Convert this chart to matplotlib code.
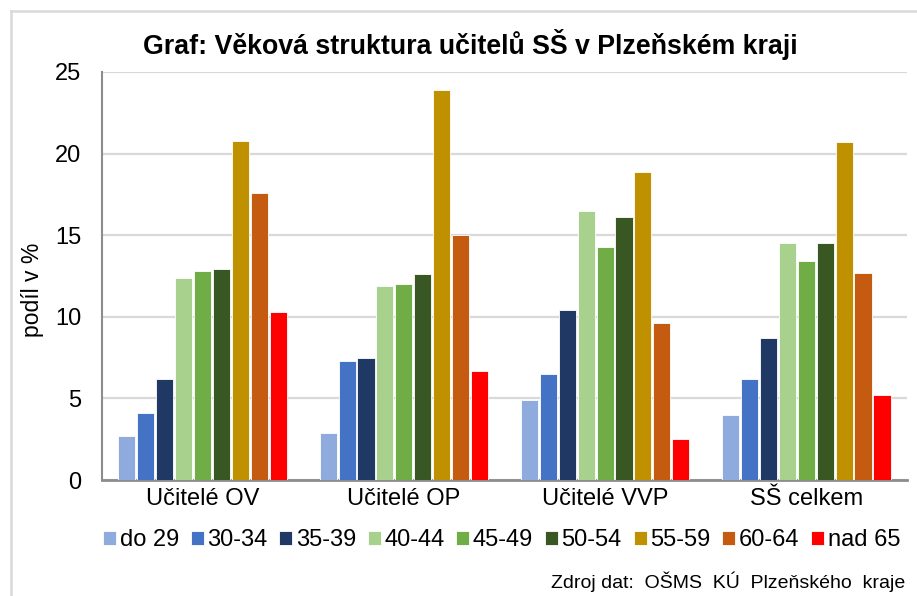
import numpy as np
import matplotlib
matplotlib.use('Agg')
import matplotlib.pyplot as plt
from matplotlib.lines import Line2D

plt.rcParams['font.family'] = ['Liberation Sans', 'DejaVu Sans']

# data
categories = ['Učitelé OV', 'Učitelé OP', 'Učitelé VVP', 'SŠ celkem']
age_groups = ['do 29', '30-34', '35-39', '40-44', '45-49', '50-54', '55-59', '60-64', 'nad 65']
do29 = [2.7, 2.9, 4.9, 4.0]
a30_34 = [4.1, 7.3, 6.5, 6.2]
a35_39 = [6.2, 7.5, 10.4, 8.7]
a40_44 = [12.4, 11.9, 16.5, 14.5]
a45_49 = [12.8, 12.0, 14.3, 13.4]
a50_54 = [12.9, 12.6, 16.1, 14.5]
a55_59 = [20.8, 23.9, 18.9, 20.7]
a60_64 = [17.6, 15.0, 9.6, 12.7]
nad65 = [10.3, 6.7, 2.5, 5.2]
series = [do29, a30_34, a35_39, a40_44, a45_49, a50_54, a55_59, a60_64, nad65]
colors = ['#8FAADC', '#4472C4', '#203864', '#A9D18E', '#70AD47',
          '#385723', '#BF9000', '#C55A11', '#FF0000']

fig = plt.figure(figsize=(9.17, 5.96), dpi=100)
ax = fig.add_axes([0.1112, 0.1946, 0.8778, 0.6846])

x = np.arange(len(categories))
slot = 0.094
for i, (vals, col, lab) in enumerate(zip(series, colors, age_groups)):
    ax.bar(x + (i - 4) * slot, vals, width=0.085, color=col, label=lab,
           edgecolor='white', linewidth=0.6, zorder=3)

ax.set_xlim(-0.5, 3.5)
ax.set_ylim(0, 25)
ax.set_yticks([0, 5, 10, 15, 20, 25])
ax.yaxis.grid(True, color='#D9D9D9', linewidth=1.6, zorder=0)
ax.set_axisbelow(True)
ax.set_xticks(x)
ax.set_xticklabels(categories)
ax.tick_params(axis='y', length=0, pad=15, labelsize=17)
ax.tick_params(axis='x', length=0, pad=6, labelsize=17)
for s in ['top', 'right']:
    ax.spines[s].set_visible(False)
ax.spines['left'].set_color('#8C8C8C')
ax.spines['left'].set_linewidth(1.5)
ax.spines['bottom'].set_color('#8C8C8C')
ax.spines['bottom'].set_linewidth(2)

fig.text(0.5125, 0.9245, 'Graf: Věková struktura učitelů SŠ v Plzeňském kraji',
         ha='center', va='center', fontsize=19.3, fontweight='bold')
fig.text(0.035, 0.513, 'podíl v %', rotation=90, ha='center', va='center', fontsize=16.5)

fig.legend(loc='center', bbox_to_anchor=(0.547, 0.094), ncol=9, frameon=False,
           fontsize=17, handlelength=0.55, handleheight=0.55, handletextpad=0.15,
           columnspacing=0.5, borderaxespad=0, borderpad=0)

fig.text(0.987, 0.0235, 'Zdroj dat:  OŠMS  KÚ  Plzeňského  kraje', ha='right', va='center',
         fontsize=14)

# light frame lines along top and left like the original screenshot
fig.add_artist(Line2D([11 / 917, 11 / 917], [0, 1 - 11 / 596], color='#D9D9D9', linewidth=1.8,
                      transform=fig.transFigure))
fig.add_artist(Line2D([11 / 917, 1], [1 - 11 / 596, 1 - 11 / 596], color='#D9D9D9', linewidth=1.8,
                      transform=fig.transFigure))

fig.savefig('out.png', dpi=100)
